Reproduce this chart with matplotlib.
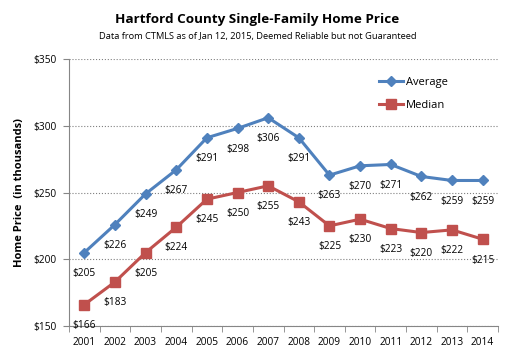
import matplotlib.pyplot as plt
import numpy as np

# data
years = ['2001', '2002', '2003', '2004', '2005', '2006', '2007',
         '2008', '2009', '2010', '2011', '2012', '2013', '2014']
average = [205, 226, 249, 267, 291, 298, 306, 291, 263, 270, 271, 262, 259, 259]
median = [166, 183, 205, 224, 245, 250, 255, 243, 225, 230, 223, 220, 222, 215]

plt.rcParams['font.family'] = ['Open Sans', 'DejaVu Sans']

fig = plt.figure(figsize=(5.15, 3.56), dpi=100)
ax = fig.add_axes([69 / 515, 1 - 326 / 356, 429 / 515, 267 / 356])

x = np.arange(len(years))
blue = '#4F81BD'
red = '#C0504D'

ax.plot(x, average, color=blue, lw=2.2, marker='D', ms=5.5, label='Average', zorder=3)
ax.plot(x, median, color=red, lw=2.2, marker='s', ms=7, label='Median', zorder=3)

# data labels below points
for i in range(len(years)):
    ax.annotate(f'${average[i]}', (x[i], average[i]), xytext=(0, -11),
                textcoords='offset points', ha='center', va='top', fontsize=7.3)
    ax.annotate(f'${median[i]}', (x[i], median[i]), xytext=(0, -11),
                textcoords='offset points', ha='center', va='top', fontsize=7.3)

ax.set_xlim(-0.5, len(years) - 0.5)
ax.set_ylim(150, 350)
ax.set_yticks([150, 200, 250, 300, 350])
ax.set_yticklabels([f'${v}' for v in [150, 200, 250, 300, 350]], fontsize=7.3)
ax.set_xticks(x)
ax.set_xticklabels(years, fontsize=7.3)
ax.set_xticks(np.arange(-0.5, len(years), 1), minor=True)
ax.tick_params(axis='x', which='major', length=0, pad=8)
ax.tick_params(axis='x', which='minor', length=4, color='#868686', direction='out')
ax.tick_params(axis='y', length=4, color='#868686', direction='out', pad=5)

ax.grid(axis='y', linestyle=':', color='#808080', lw=0.8)
ax.set_axisbelow(True)
for s in ['top', 'right']:
    ax.spines[s].set_visible(False)
ax.spines['left'].set_color('#868686')
ax.spines['bottom'].set_color('#868686')

ax.set_ylabel('Home Price  (in thousands)', fontsize=8, fontweight='bold', labelpad=6)

fig.text(0.5, 1 - 20 / 356, 'Hartford County Single-Family Home Price',
         ha='center', va='center', fontsize=9.7, fontweight='bold')
fig.text(0.5, 1 - 37 / 356, 'Data from CTMLS as of Jan 12, 2015, Deemed Reliable but not Guaranteed',
         ha='center', va='center', fontsize=6.7)

ax.legend(loc='upper left', bbox_to_anchor=(300 / 429, 1 - 8 / 267), frameon=False,
          fontsize=8, handlelength=2.2, labelspacing=1.1, handletextpad=0.2)

fig.savefig('out.png', dpi=100)
